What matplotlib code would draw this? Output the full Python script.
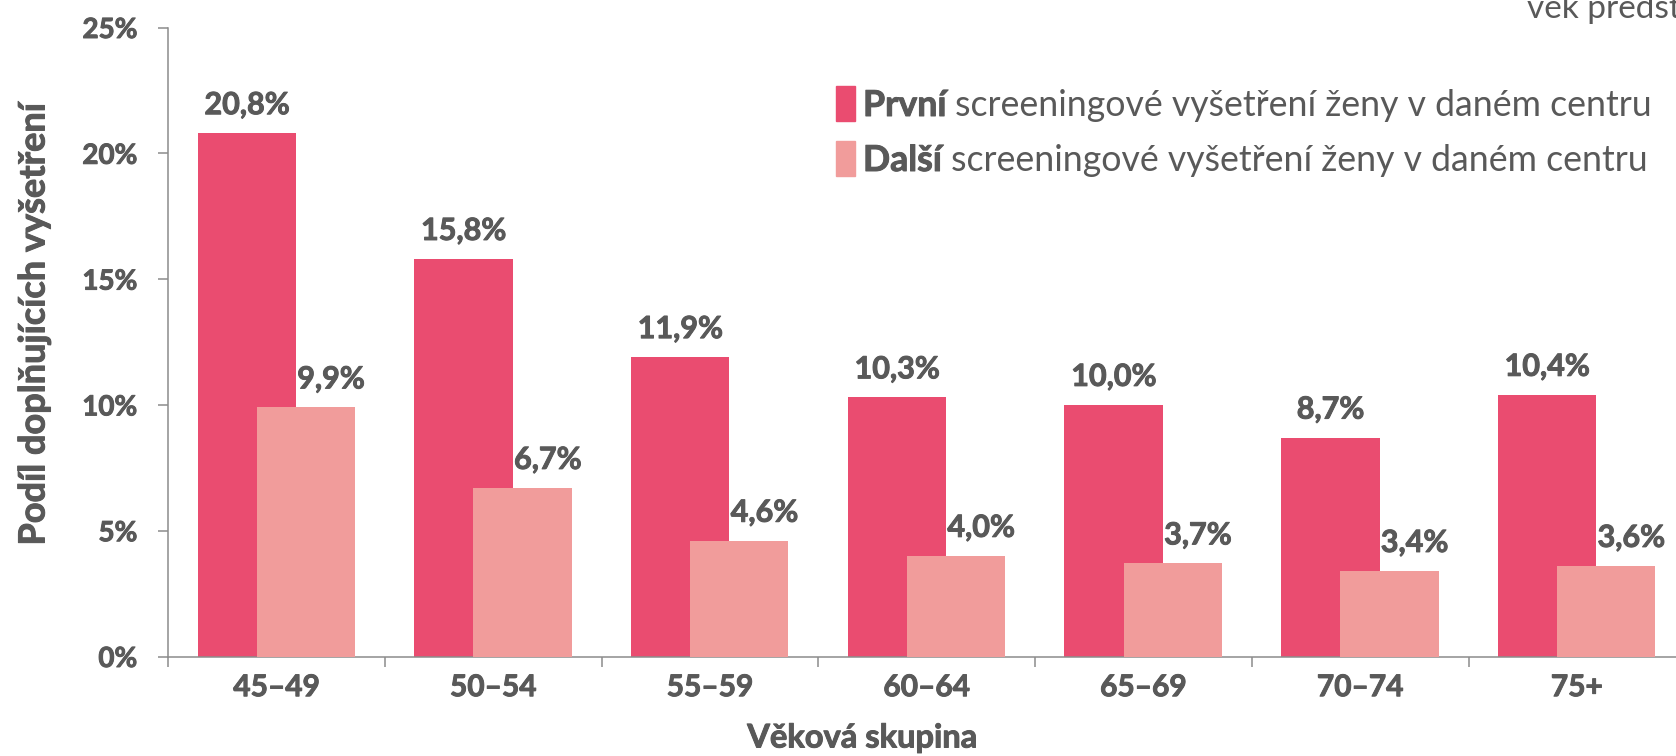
import matplotlib
matplotlib.use("Agg")
import matplotlib.pyplot as plt
from matplotlib.patches import Rectangle
import matplotlib.patheffects as pe
import numpy as np

categories = ["45–49", "50–54", "55–59", "60–64", "65–69", "70–74", "75+"]
first_exam = [20.8, 15.8, 11.9, 10.3, 10.0, 8.7, 10.4]
next_exam = [9.9, 6.7, 4.6, 4.0, 3.7, 3.4, 3.6]
yticks = [0, 5, 10, 15, 20, 25]
legend_bold = ["První", "Další"]
legend_rest = " screeningové vyšetření ženy v daném centru"

DARK = "#EA4C70"
LIGHT = "#F19C9B"
TXT = "#595959"
AX = "#8C8C8C"

plt.rcParams['font.family'] = ['Lato', 'DejaVu Sans']
BOLD_FX = [pe.withStroke(linewidth=0.7, foreground=TXT)]

W, H = 1676, 756
fig = plt.figure(figsize=(W / 100, H / 100), dpi=100)
ax = fig.add_axes([168.3 / W, (H - 656.5) / H, 1516.9 / W, 629 / H])

x = np.arange(len(categories))
bw = 0.454
ax.bar(x - 0.1375, first_exam, width=bw, color=DARK, zorder=2)
ax.bar(x + 0.135, next_exam, width=bw, color=LIGHT, zorder=3)

for xi, v in zip(x, first_exam):
    ax.annotate(f"{v:.1f}%".replace(".", ","), (xi - 0.1375, v), xytext=(0, 28),
                textcoords="offset pixels", ha="center", va="center",
                fontsize=22, fontweight="bold", color=TXT, path_effects=BOLD_FX)
for xi, v in zip(x, next_exam):
    ax.annotate(f"{v:.1f}%".replace(".", ","), (xi + 0.135, v), xytext=(25, 28),
                textcoords="offset pixels", ha="center", va="center",
                fontsize=22, fontweight="bold", color=TXT, path_effects=BOLD_FX)

ax.set_xlim(-0.5, 6.5)
ax.set_ylim(0, 25)
ax.set_yticks(yticks)
ax.set_yticklabels([f"{t}%" for t in yticks])
ax.set_xticks(x)
ax.set_xticklabels(categories)
ax.set_xticks(np.arange(-0.5, 7.0, 1.0), minor=True)
ax.tick_params(axis="x", which="major", length=0, pad=12, labelsize=21.5, labelcolor=TXT)
ax.tick_params(axis="x", which="minor", length=7.2, width=1.1, color=AX, direction="out")
ax.tick_params(axis="y", which="major", length=7.2, width=1.1, color=AX, pad=15,
               labelsize=20, labelcolor=TXT)
for lab in ax.get_xticklabels() + ax.get_yticklabels():
    lab.set_fontweight("bold")
    lab.set_path_effects(BOLD_FX)
for s in ["top", "right"]:
    ax.spines[s].set_visible(False)
for s in ["left", "bottom"]:
    ax.spines[s].set_color(AX)
    ax.spines[s].set_linewidth(1.1)

fig.text(34 / W, 1 - 324 / H, "Podíl doplňujících vyšetření", rotation=90,
         ha="center", va="center", fontsize=26, fontweight="bold", color=TXT,
         path_effects=BOLD_FX)
fig.text(862 / W, 1 - 738 / H, "Věková skupina", ha="center", va="center",
         fontsize=23.5, fontweight="bold", color=TXT, path_effects=BOLD_FX)
fig.text(1527 / W, 1 - 18 / H, "věk předst", ha="left", va="baseline",
         fontsize=24, color=TXT)

# legend
rows = [(86, 121, 116, DARK), (141, 176, 171, LIGHT)]
fig.canvas.draw()
r = fig.canvas.get_renderer()
for (y0, y1, base, col), bold in zip(rows, legend_bold):
    fig.add_artist(Rectangle((836 / W, 1 - y1 / H), 19 / W, (y1 - y0) / H,
                             transform=fig.transFigure, color=col))
    t = fig.text(863 / W, 1 - base / H, bold, ha="left", va="baseline",
                 fontsize=25.7, fontweight="bold", color=TXT, path_effects=BOLD_FX)
    bb = t.get_window_extent(renderer=r)
    fig.text(bb.x1 / W, 1 - base / H, legend_rest, ha="left", va="baseline",
             fontsize=25.7, color=TXT)

fig.savefig("out.png", dpi=100)
